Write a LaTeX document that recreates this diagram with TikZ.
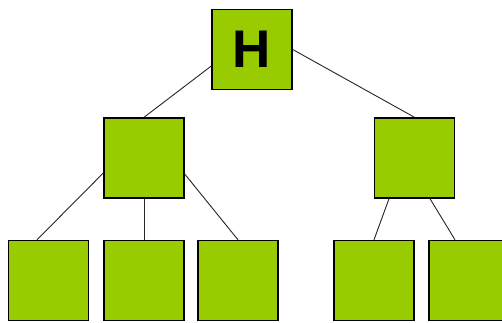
\documentclass[tikz,border=0pt]{standalone}
\usepackage{fontspec}
\setmainfont{Liberation Sans}
\definecolor{boxgreen}{HTML}{99CC00}
\begin{document}
\begin{tikzpicture}[x=1pt,y=-1pt,
  box/.style={draw=black,fill=boxgreen,line width=1.4pt,minimum width=80pt,minimum height=80pt,inner sep=0pt},
  link/.style={draw=black!85,line width=0.9pt}]
\useasboundingbox (0,0) rectangle (502,323);
\node[box,font=\fontsize{53}{53}\selectfont\bfseries] (H) at (252,49.5) {H};
\node[box] (L) at (144,158) {};
\node[box] (R) at (414.5,158) {};
\node[box] (B1) at (48.5,280.5) {};
\node[box] (B2) at (144,280.5) {};
\node[box] (B3) at (238,280.5) {};
\node[box] (B4) at (374,280.5) {};
\node[box] (B5) at (469,280.5) {};
\draw[link] ([yshift=-16.5pt]H.west) -- (L.north);
\draw[link] (H.east) -- (R.north);
\draw[link] ([yshift=-15pt]L.west) -- ([xshift=-11.5pt]B1.north);
\draw[link] (L.south) -- (B2.north);
\draw[link] ([yshift=-16pt]L.east) -- (B3.north);
\draw[link] ([xshift=-25.5pt]R.south) -- (B4.north);
\draw[link] ([xshift=15.5pt]R.south) -- ([xshift=-14pt]B5.north);
\end{tikzpicture}
\end{document}
